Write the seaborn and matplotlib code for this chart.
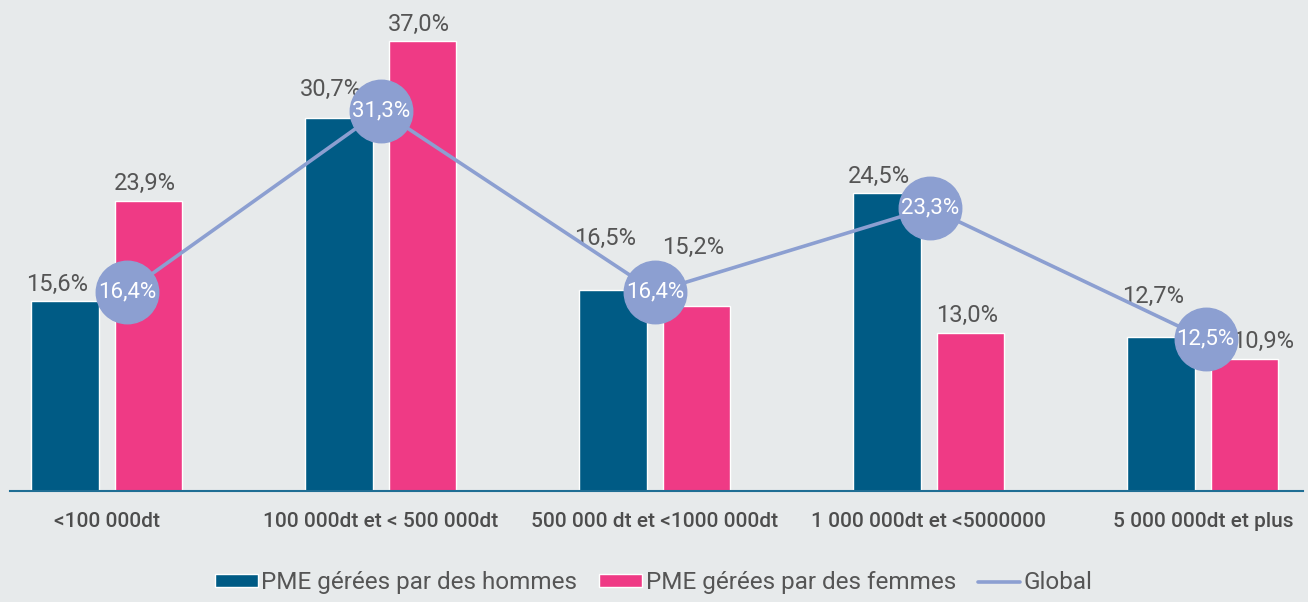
import numpy as np
import pandas as pd
import matplotlib
matplotlib.use("Agg")
import matplotlib.pyplot as plt
import seaborn as sns
from matplotlib.patches import Patch
from matplotlib.lines import Line2D

# data
categories = ["<100 000dt", "100 000dt et < 500 000dt", "500 000 dt et <1000 000dt",
              "1 000 000dt et <5000000", "5 000 000dt et plus"]
hommes = [15.6, 30.7, 16.5, 24.5, 12.7]
femmes = [23.9, 37.0, 15.2, 13.0, 10.9]
global_vals = [16.4, 31.3, 16.4, 23.3, 12.5]
series_names = ["PME gérées par des hommes", "PME gérées par des femmes"]

C_MEN = "#005B85"
C_WOMEN = "#EF3A85"
C_LINE = "#8C9FD1"
BG = "#E7EAEB"
TXT = "#555555"

sns.set_style("white")
plt.rcParams["font.family"] = ["Roboto", "DejaVu Sans"]

df = pd.DataFrame({
    "cat": categories * 2,
    "val": hommes + femmes,
    "serie": [series_names[0]] * 5 + [series_names[1]] * 5,
})

fig = plt.figure(figsize=(13.08, 6.02), dpi=100, facecolor=BG)
ax = fig.add_axes([0.0076, 0.1844, 0.9885, 0.8156])
ax.set_facecolor(BG)

sns.barplot(data=df, x="cat", y="val", hue="serie", order=categories,
            hue_order=series_names, palette=[C_MEN, C_WOMEN],
            width=0.612, gap=0.2, saturation=1, legend=False, ax=ax, zorder=2)

x = np.arange(len(categories))
# extra lift (points) so labels clear the circles, as in the original
lift_men = [0, 8, 25, 0, 17]
lift_women = [0, 0, 30, 0, 0]
for i in range(len(categories)):
    ax.annotate(f"{hommes[i]:.1f}%".replace(".", ","), (x[i] - 0.153, hommes[i]),
                xytext=(-6, 4 + lift_men[i]), textcoords="offset points",
                ha="center", va="bottom", fontsize=17, color=TXT, zorder=3)
    dx = 13 if i == 4 else -3
    ax.annotate(f"{femmes[i]:.1f}%".replace(".", ","), (x[i] + 0.153, femmes[i]),
                xytext=(dx, 4 + lift_women[i]), textcoords="offset points",
                ha="center", va="bottom", fontsize=17, color=TXT, zorder=3)

# global line with circle markers (first circle nudged right like the original)
nudge = np.array([0.073, 0, 0, 0.003, 0.01])
xg = x + nudge
ax.plot(xg, global_vals, color=C_LINE, lw=2.6, marker="o", markersize=45,
        markerfacecolor=C_LINE, markeredgecolor=C_LINE, zorder=4)
for i, v in enumerate(global_vals):
    ax.text(xg[i], v, f"{v:.1f}%".replace(".", ","), ha="center", va="center",
            fontsize=16, color="white", zorder=5)

ax.set_xlim(-0.354, 4.365)
ax.set_ylim(0, 40.4)
ax.set_xlabel("")
ax.set_ylabel("")
ax.set_yticks([])
ax.set_xticks(x)
ax.set_xticklabels(categories, fontsize=15, color="#4d4d4d", fontweight="medium")
ax.tick_params(axis="x", which="major", length=0, pad=15)
ax.set_xticks([-0.354, 4.365], minor=True)
ax.tick_params(axis="x", which="minor", length=12, width=1.5, direction="inout",
               color="#1F6E94")
for s in ["top", "left", "right"]:
    ax.spines[s].set_visible(False)
ax.spines["bottom"].set_color("#1F6E94")
ax.spines["bottom"].set_linewidth(1.5)
ax.spines["bottom"].set_zorder(3)

handles = [Patch(facecolor=C_MEN), Patch(facecolor=C_WOMEN),
           Line2D([0], [0], color=C_LINE, lw=2.6)]
fig.legend(handles, series_names + ["Global"], loc="center", bbox_to_anchor=(0.5, 0.032),
           ncol=3, frameon=False, fontsize=17.5, handlelength=1.75, handleheight=0.45,
           handletextpad=0.15, columnspacing=0.9, labelcolor=TXT)

fig.savefig("out.png", dpi=100, facecolor=BG)
